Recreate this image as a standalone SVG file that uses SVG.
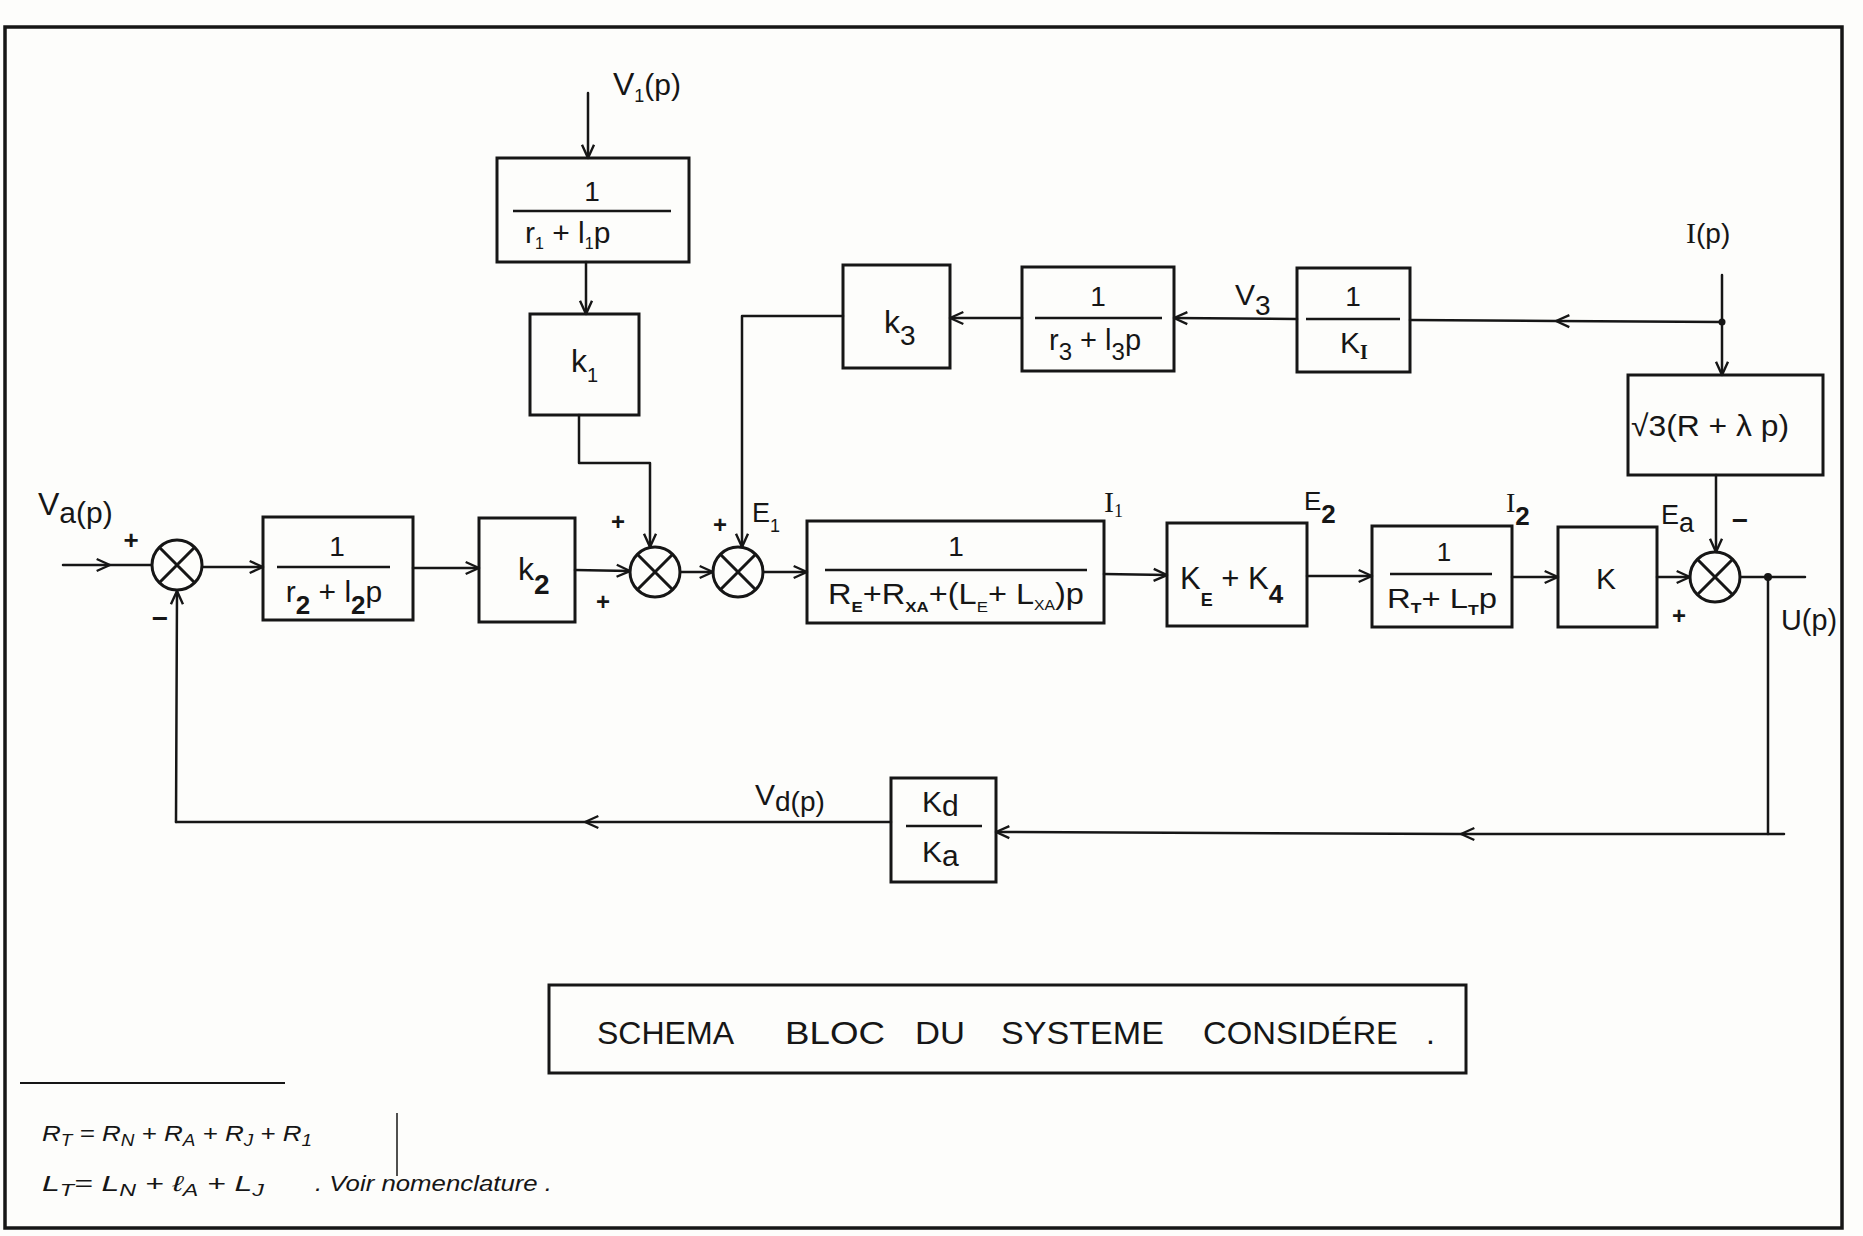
<svg xmlns="http://www.w3.org/2000/svg" width="1863" height="1236" viewBox="0 0 1863 1236">
<style>
.ln{fill:none;stroke:#161616;stroke-width:2.5;stroke-linecap:round;stroke-linejoin:round}
.bx{fill:none;stroke:#161616;stroke-width:3}
.fl{stroke:#161616;stroke-width:2.5}
.t{font-family:"Liberation Sans",Arial,sans-serif;fill:#161616}
.s{font-family:"Liberation Serif","Times New Roman",serif;fill:#161616}
.h{font-family:"Liberation Sans",Arial,sans-serif;font-style:italic;fill:#161616}
.b{font-weight:bold}
</style>
<defs>
<marker id="a" markerUnits="userSpaceOnUse" markerWidth="16" markerHeight="16" viewBox="0 0 12 12" refX="11" refY="6" orient="auto">
<path d="M1,1.5 L11,6 L1,10.5" fill="none" stroke="#161616" stroke-width="1.8"/>
</marker>
<g id="sum"><circle r="25" fill="none" stroke="#161616" stroke-width="3"/><path d="M-17.7,-17.7 L17.7,17.7 M17.7,-17.7 L-17.7,17.7" stroke="#161616" stroke-width="3"/></g>
</defs>
<rect width="1863" height="1236" fill="#fdfdfb"/>
<rect x="5" y="27" width="1837" height="1201" fill="none" stroke="#161616" stroke-width="3.5"/>

<g id="connectors">
<path class="ln" d="M63,565 L110,565 L151,565" marker-mid="url(#a)"/>
<path class="ln" d="M203,567 L263,567" marker-end="url(#a)"/>
<path class="ln" d="M413,568 L479,568" marker-end="url(#a)"/>
<path class="ln" d="M575,570 L630,571" marker-end="url(#a)"/>
<path class="ln" d="M680,572 L713,572" marker-end="url(#a)"/>
<path class="ln" d="M763,572 L807,572" marker-end="url(#a)"/>
<path class="ln" d="M1104,574 L1167,575" marker-end="url(#a)"/>
<path class="ln" d="M1307,576 L1372,576" marker-end="url(#a)"/>
<path class="ln" d="M1512,577 L1558,577" marker-end="url(#a)"/>
<path class="ln" d="M1657,577 L1690,577" marker-end="url(#a)"/>
<path class="ln" d="M1740,577 L1805,577"/>
<circle cx="1768" cy="577" r="4" fill="#161616"/>
<path class="ln" d="M1768,577 L1768,834 L1784,834"/>
<path class="ln" d="M1768,834 L1461,834 L996,832" marker-mid="url(#a)" marker-end="url(#a)"/>
<path class="ln" d="M891,822 L585,822 L176,822" marker-mid="url(#a)"/>
<path class="ln" d="M176,822 L177,591" marker-end="url(#a)"/>
<path class="ln" d="M588,93 L588,158" marker-end="url(#a)"/>
<path class="ln" d="M586,262 L586,314" marker-end="url(#a)"/>
<path class="ln" d="M579,415 L579,463 L650,463 L650,547" marker-end="url(#a)"/>
<path class="ln" d="M843,316 L742,316 L742,547" marker-end="url(#a)"/>
<path class="ln" d="M1022,318 L950,318" marker-end="url(#a)"/>
<path class="ln" d="M1297,319 L1174,318" marker-end="url(#a)"/>
<path class="ln" d="M1722,322 L1556,321 L1410,320" marker-mid="url(#a)"/>
<path class="ln" d="M1722,275 L1722,375" marker-end="url(#a)"/>
<circle cx="1722" cy="322" r="3.5" fill="#161616"/>
<path class="ln" d="M1716,475 L1716,552" marker-end="url(#a)"/>
</g>

<g id="labels">
<text class="t" x="38" y="515" font-size="32">V<tspan dy="8" font-size="30">a(p)</tspan></text>
<text class="t b" x="131" y="549" font-size="26" text-anchor="middle">+</text>
<text class="t b" x="160" y="628" font-size="28" text-anchor="middle">−</text>
<text class="t b" x="618" y="530" font-size="24" text-anchor="middle">+</text>
<text class="t b" x="603" y="610" font-size="24" text-anchor="middle">+</text>
<text class="t b" x="720" y="533" font-size="24" text-anchor="middle">+</text>
<text class="t" x="752" y="522" font-size="27">E<tspan dy="10" font-size="18">1</tspan></text>
<text class="s" x="1104" y="512" font-size="30">I<tspan dy="5" font-size="18">1</tspan></text>
<text class="t" x="1304" y="510" font-size="26">E<tspan dy="13" font-size="26" class="b">2</tspan></text>
<text class="s" x="1506" y="512" font-size="28">I<tspan dy="13" font-size="26" class="t b">2</tspan></text>
<text class="t" x="1661" y="524" font-size="27">E<tspan dy="8" font-size="27">a</tspan></text>
<text class="t b" x="1740" y="530" font-size="28" text-anchor="middle">−</text>
<text class="t b" x="1679" y="624" font-size="24" text-anchor="middle">+</text>
<text class="t" x="1781" y="630" font-size="30" textLength="56" lengthAdjust="spacingAndGlyphs">U(p)</text>
<text class="t" x="613" y="95" font-size="32">V<tspan dy="7" font-size="18">1</tspan><tspan dy="-7" font-size="30">(p)</tspan></text>
<text class="t" x="1235" y="305" font-size="30">V<tspan dy="10" font-size="28">3</tspan></text>
<text class="s" x="1686" y="243" font-size="30">I<tspan class="t" font-size="28">(p)</tspan></text>
<text class="t" x="755" y="805" font-size="30">V<tspan dy="6" font-size="28">d(p)</tspan></text>
</g>

<g id="sum0"><use href="#sum" x="177" y="565"/></g>
<g id="sum1"><use href="#sum" x="655" y="572"/></g>
<g id="sum2"><use href="#sum" x="738" y="572"/></g>
<g id="sum3"><use href="#sum" x="1715" y="577"/></g>

<g id="blockA">
<rect class="bx" x="263" y="517" width="150" height="103"/>
<line class="fl" x1="277" y1="567" x2="390" y2="567"/>
<text class="t" x="337" y="556" font-size="28" text-anchor="middle">1</text>
<text class="t" x="334" y="602" font-size="30" text-anchor="middle">r<tspan dy="12" font-size="26" class="b">2</tspan><tspan dy="-12"> + l</tspan><tspan dy="12" font-size="26" class="b">2</tspan><tspan dy="-12">p</tspan></text>
</g>

<g id="blockK2">
<rect class="bx" x="479" y="518" width="96" height="104"/>
<text class="t" x="518" y="580" font-size="32">k<tspan dy="14" font-size="28" class="b">2</tspan></text>
</g>

<g id="blockB">
<rect class="bx" x="807" y="521" width="297" height="102"/>
<line class="fl" x1="825" y1="570" x2="1087" y2="570"/>
<text class="t" x="956" y="556" font-size="28" text-anchor="middle">1</text>
<text class="t" x="828" y="604" font-size="29" textLength="256" lengthAdjust="spacingAndGlyphs">R<tspan dy="8" font-size="15" class="b">E</tspan><tspan dy="-8">+R</tspan><tspan dy="8" font-size="15" class="b">XA</tspan><tspan dy="-8">+(L</tspan><tspan dy="8" font-size="15">E</tspan><tspan dy="-8">+ L</tspan><tspan dy="6" font-size="14">XA</tspan><tspan dy="-6">)p</tspan></text>
</g>

<g id="blockC">
<rect class="bx" x="1167" y="523" width="140" height="103"/>
<text class="t" x="1180" y="589" font-size="31">K<tspan dy="17" font-size="18" class="b">E</tspan><tspan dy="-17"> + K</tspan><tspan dy="14" font-size="26" class="b">4</tspan></text>
</g>

<g id="blockD">
<rect class="bx" x="1372" y="526" width="140" height="101"/>
<line class="fl" x1="1390" y1="574" x2="1492" y2="574"/>
<text class="t" x="1444" y="561" font-size="26" text-anchor="middle">1</text>
<text class="t" x="1387" y="608" font-size="28" textLength="110" lengthAdjust="spacingAndGlyphs">R<tspan dy="5" font-size="15" class="b">T</tspan><tspan dy="-5">+ L</tspan><tspan dy="7" font-size="15" class="b">T</tspan><tspan dy="-7">p</tspan></text>
</g>

<g id="blockKgain">
<rect class="bx" x="1558" y="527" width="99" height="100"/>
<text class="t" x="1606" y="589" font-size="30" text-anchor="middle">K</text>
</g>

<g id="blockH">
<rect class="bx" x="1628" y="375" width="195" height="100"/>
<text class="t" x="1631" y="436" font-size="30" textLength="158" lengthAdjust="spacingAndGlyphs">√3(R + λ p)</text>
</g>

<g id="blockE">
<rect class="bx" x="497" y="158" width="192" height="104"/>
<line class="fl" x1="513" y1="211" x2="671" y2="211"/>
<text class="t" x="592" y="201" font-size="28" text-anchor="middle">1</text>
<text class="t" x="525" y="243" font-size="30">r<tspan dy="6" font-size="16">1</tspan><tspan dy="-6">  + l</tspan><tspan dy="6" font-size="16">1</tspan><tspan dy="-6">p</tspan></text>
</g>

<g id="blockK1">
<rect class="bx" x="530" y="314" width="109" height="101"/>
<text class="t" x="571" y="372" font-size="32">k<tspan dy="10" font-size="20">1</tspan></text>
</g>

<g id="blockK3">
<rect class="bx" x="843" y="265" width="107" height="103"/>
<text class="t" x="884" y="333" font-size="32">k<tspan dy="12" font-size="28">3</tspan></text>
</g>

<g id="blockF">
<rect class="bx" x="1022" y="267" width="152" height="104"/>
<line class="fl" x1="1035" y1="318" x2="1162" y2="318"/>
<text class="t" x="1098" y="306" font-size="28" text-anchor="middle">1</text>
<text class="t" x="1049" y="350" font-size="29">r<tspan dy="10" font-size="24">3</tspan><tspan dy="-10"> + l</tspan><tspan dy="10" font-size="24">3</tspan><tspan dy="-10">p</tspan></text>
</g>

<g id="blockG">
<rect class="bx" x="1297" y="268" width="113" height="104"/>
<line class="fl" x1="1306" y1="319" x2="1400" y2="319"/>
<text class="t" x="1353" y="306" font-size="28" text-anchor="middle">1</text>
<text class="t" x="1340" y="353" font-size="30">K<tspan dy="6" class="s b" font-size="20">I</tspan></text>
</g>

<g id="blockKdKa">
<rect class="bx" x="891" y="778" width="105" height="104"/>
<line class="fl" x1="906" y1="826" x2="982" y2="826"/>
<text class="t" x="922" y="812" font-size="30">K<tspan dy="4" font-size="30">d</tspan></text>
<text class="t" x="922" y="862" font-size="30">K<tspan dy="4" font-size="30">a</tspan></text>
</g>

<g id="title">
<rect x="549" y="985" width="917" height="88" fill="none" stroke="#161616" stroke-width="3"/>
<text class="t" x="597" y="1044" font-size="32" textLength="137" lengthAdjust="spacingAndGlyphs">SCHEMA</text>
<text class="t" x="785" y="1044" font-size="32" textLength="100" lengthAdjust="spacingAndGlyphs">BLOC</text>
<text class="t" x="915" y="1044" font-size="32" textLength="50" lengthAdjust="spacingAndGlyphs">DU</text>
<text class="t" x="1001" y="1044" font-size="32" textLength="163" lengthAdjust="spacingAndGlyphs">SYSTEME</text>
<text class="t" x="1203" y="1044" font-size="32" textLength="195" lengthAdjust="spacingAndGlyphs">CONSIDÉRE</text>
<text class="t" x="1426" y="1044" font-size="32">.</text>
</g>

<g id="footnote">
<line x1="20" y1="1083" x2="285" y2="1083" stroke="#161616" stroke-width="2"/>
<line x1="397" y1="1113" x2="397" y2="1176" stroke="#161616" stroke-width="1.5"/>
<text class="h" x="42" y="1141" font-size="22" textLength="270" lengthAdjust="spacingAndGlyphs">R<tspan dy="5" font-size="16">T</tspan><tspan dy="-5"> = R</tspan><tspan dy="5" font-size="16">N</tspan><tspan dy="-5"> + R</tspan><tspan dy="5" font-size="16">A</tspan><tspan dy="-5"> + R</tspan><tspan dy="5" font-size="16">J</tspan><tspan dy="-5"> + R</tspan><tspan dy="5" font-size="16">1</tspan></text>
<text class="h" x="42" y="1191" font-size="22" textLength="222" lengthAdjust="spacingAndGlyphs">L<tspan dy="5" font-size="16">T</tspan><tspan dy="-5">= L</tspan><tspan dy="5" font-size="16">N</tspan><tspan dy="-5"> + ℓ</tspan><tspan dy="5" font-size="16">A</tspan><tspan dy="-5"> + L</tspan><tspan dy="5" font-size="16">J</tspan></text>
<text class="h" x="315" y="1191" font-size="22" textLength="237" lengthAdjust="spacingAndGlyphs">. Voir nomenclature .</text>
</g>
</svg>
